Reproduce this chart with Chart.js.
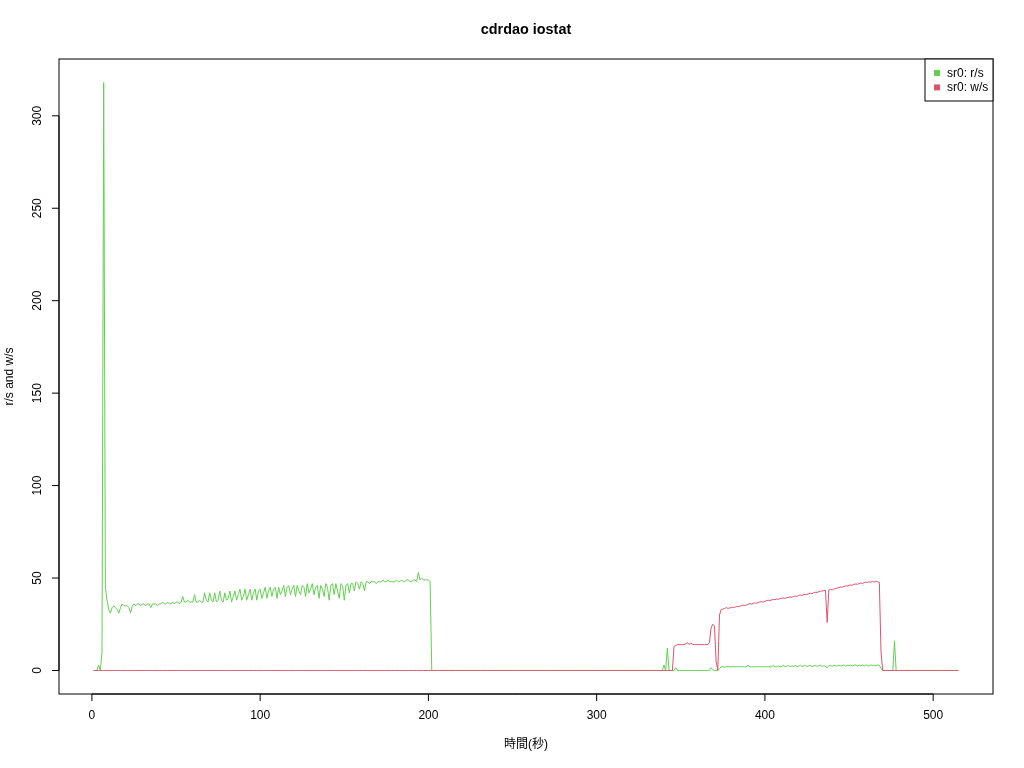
<!DOCTYPE html>
<html>
<head>
<meta charset="utf-8">
<title>cdrdao iostat</title>
<script src="https://cdn.jsdelivr.net/npm/chart.js@4/dist/chart.umd.min.js"></script>
<style>
  html, body { margin: 0; padding: 0; background: #fff; }
  canvas { display: block; }
</style>
</head>
<body>
<canvas id="chart" width="1024" height="768"></canvas>
<script>
const chartTitle = 'cdrdao iostat';
const xTitle = '時間(秒)';
const yTitle = 'r/s and w/s';
const xTicks = [0, 100, 200, 300, 400, 500];
const yTicks = [0, 50, 100, 150, 200, 250, 300];
const seriesNames = ['sr0: r/s', 'sr0: w/s'];
const firstSecond = 1;

// sr0 r/s, one value per second from t=1
const readsPerSec = [
  0,0,0,3,0,10,318,45,38,33,
  31,34,35,34,33,31,34,36,35,35,
  35,34,31,35,36,35,36,36,35,36,
  36,35,36,36,34,36,36,36,35,36,
  36,37,36,36,37,36,36,37,36,37,
  37,36,37,40,37,37,38,37,37,37,
  41,37,37,38,37,37,42,38,37,42,
  38,37,42,37,38,43,38,37,42,38,
  39,43,37,40,43,38,41,44,38,40,
  44,38,41,44,38,42,44,38,43,44,
  39,42,45,39,43,45,40,44,45,39,
  45,41,43,46,40,45,46,41,44,46,
  40,46,43,41,46,45,40,47,42,44,
  47,41,45,46,39,46,44,40,47,45,
  38,46,47,41,47,43,39,47,46,38,
  46,47,42,47,47,43,48,47,44,48,
  47,43,48,48,47,48,48,48,47,48,
  48,48,49,48,48,49,48,48,48,48,
  49,48,48,49,48,48,49,49,48,48,
  49,49,48,53,49,50,49,49,49,49,
  48,0,0,0,0,0,0,0,0,0,
  0,0,0,0,0,0,0,0,0,0,
  0,0,0,0,0,0,0,0,0,0,
  0,0,0,0,0,0,0,0,0,0,
  0,0,0,0,0,0,0,0,0,0,
  0,0,0,0,0,0,0,0,0,0,
  0,0,0,0,0,0,0,0,0,0,
  0,0,0,0,0,0,0,0,0,0,
  0,0,0,0,0,0,0,0,0,0,
  0,0,0,0,0,0,0,0,0,0,
  0,0,0,0,0,0,0,0,0,0,
  0,0,0,0,0,0,0,0,0,0,
  0,0,0,0,0,0,0,0,0,0,
  0,0,0,0,0,0,0,0,0,3,
  0,12,0,0,0,0,1.5,0,0,0,
  0,0,0,0,0,0,0,0,0,0,
  0,0,0,0,0,0,0,1.5,0.5,0,
  0,0,1,2,2,1.8,2,2.2,2,2,
  2.1,2,2,2,2.2,2,2,2,2.1,3,
  2,2,2,2,2,2.2,2,2,2,2.1,
  2,2,2,2,2.8,2,2,2.5,2,2.2,
  2.8,2,2.3,2.8,2,2.5,2.2,2.8,2,2.3,
  2.9,2.1,2.4,2.8,2.1,2.6,2.9,2,2.5,2.8,
  2.2,2.6,2.9,2.2,2.5,2.2,1.4,2.6,2.8,2.2,
  2.9,2.5,2.3,2.9,2.4,2.7,3,2.3,2.8,2.6,
  2.9,2.3,2.8,3,2.4,2.9,2.6,2.9,2.4,3,
  2.7,2.5,3,2.6,2.9,2.5,3,2.8,1,0,
  0,0,0,0,0,0,16,0,0,0,
  0,0,0,0,0,0,0,0,0,0,
  0,0,0,0,0,0,0,0,0,0,
  0,0,0,0,0,0,0,0,0,0,
  0,0,0,0,0
];

// sr0 w/s, one value per second from t=1
const writesPerSec = [
  0,0,0,0,0,0,0,0,0,0,
  0,0,0,0,0,0,0,0,0,0,
  0,0,0,0,0,0,0,0,0,0,
  0,0,0,0,0,0,0,0,0,0,
  0,0,0,0,0,0,0,0,0,0,
  0,0,0,0,0,0,0,0,0,0,
  0,0,0,0,0,0,0,0,0,0,
  0,0,0,0,0,0,0,0,0,0,
  0,0,0,0,0,0,0,0,0,0,
  0,0,0,0,0,0,0,0,0,0,
  0,0,0,0,0,0,0,0,0,0,
  0,0,0,0,0,0,0,0,0,0,
  0,0,0,0,0,0,0,0,0,0,
  0,0,0,0,0,0,0,0,0,0,
  0,0,0,0,0,0,0,0,0,0,
  0,0,0,0,0,0,0,0,0,0,
  0,0,0,0,0,0,0,0,0,0,
  0,0,0,0,0,0,0,0,0,0,
  0,0,0,0,0,0,0,0,0,0,
  0,0,0,0,0,0,0,0,0,0,
  0,0,0,0,0,0,0,0,0,0,
  0,0,0,0,0,0,0,0,0,0,
  0,0,0,0,0,0,0,0,0,0,
  0,0,0,0,0,0,0,0,0,0,
  0,0,0,0,0,0,0,0,0,0,
  0,0,0,0,0,0,0,0,0,0,
  0,0,0,0,0,0,0,0,0,0,
  0,0,0,0,0,0,0,0,0,0,
  0,0,0,0,0,0,0,0,0,0,
  0,0,0,0,0,0,0,0,0,0,
  0,0,0,0,0,0,0,0,0,0,
  0,0,0,0,0,0,0,0,0,0,
  0,0,0,0,0,0,0,0,0,0,
  0,0,0,0,0,0,0,0,0,0,
  0,0,0,0,0,13,13.5,14,14,14,
  14,14,14.5,15,14,15,14,14,14,14,
  14,14,14,14,14,14,15,23,25,24,
  5,0,30,33,33.2,33.5,34,33.6,33.8,34,
  34.2,34.1,34.6,34.5,34.8,35,35.3,35.1,35.4,35.8,
  36.2,35.9,36.3,36.5,36.4,36.8,37,37.2,37,37.4,
  37.8,38,37.8,38.2,38.4,38.3,38.7,38.5,38.9,39,
  39.2,39,39.4,39.5,39.8,39.6,40,40.3,40.1,40.5,
  40.8,40.6,41,41.2,41.1,41.5,41.8,41.6,42.1,42.3,
  42.2,42.6,42.9,43,43.2,43.4,26,43.6,43.9,43.6,
  44.1,44.3,44.6,44.8,45.2,45,45.5,45.8,45.6,46,
  46.3,46.1,46.6,46.8,46.6,47,47.3,47.1,47.5,47.8,
  47.6,48,47.7,48.2,47.8,48.3,48,47.6,10,0,
  0,0,0,0,0,0,0,0,0,0,
  0,0,0,0,0,0,0,0,0,0,
  0,0,0,0,0,0,0,0,0,0,
  0,0,0,0,0,0,0,0,0,0,
  0,0,0,0,0
];

const GREEN = '#61D04F';
const RED = '#DF536B';
const FONT = '"Liberation Sans", Arial, "Noto Sans CJK JP", sans-serif';

function toPoints(values) {
  return values.map((v, i) => ({ x: firstSecond + i, y: v }));
}

// R pads the data range by 4% on each side
function paddedRange(lo, hi) {
  const pad = (hi - lo) * 0.04;
  return { min: lo - pad, max: hi + pad };
}

const allX = readsPerSec.length + firstSecond - 1;
const xRange = paddedRange(firstSecond, allX);
const yRange = paddedRange(0, Math.max(...readsPerSec, ...writesPerSec));

const rAxesPlugin = {
  id: 'rAxes',
  afterDraw(chart) {
    const { ctx, chartArea: a, scales } = chart;
    const xs = scales.x;
    const ys = scales.y;
    ctx.save();
    ctx.strokeStyle = '#000';
    ctx.fillStyle = '#000';
    ctx.lineWidth = 1;

    // box
    ctx.strokeRect(a.left, a.top, a.right - a.left, a.bottom - a.top);

    // x axis
    const x0 = xs.getPixelForValue(xTicks[0]);
    const x1 = xs.getPixelForValue(xTicks[xTicks.length - 1]);
    ctx.beginPath();
    ctx.moveTo(x0, a.bottom);
    ctx.lineTo(x1, a.bottom);
    ctx.font = '12px ' + FONT;
    ctx.textAlign = 'center';
    ctx.textBaseline = 'middle';
    xTicks.forEach((t) => {
      const px = xs.getPixelForValue(t);
      ctx.moveTo(px, a.bottom);
      ctx.lineTo(px, a.bottom + 7);
      ctx.fillText(String(t), px, a.bottom + 22);
    });
    ctx.stroke();

    // y axis
    const y0 = ys.getPixelForValue(yTicks[0]);
    const y1 = ys.getPixelForValue(yTicks[yTicks.length - 1]);
    ctx.beginPath();
    ctx.moveTo(a.left, y0);
    ctx.lineTo(a.left, y1);
    yTicks.forEach((t) => {
      const py = ys.getPixelForValue(t);
      ctx.moveTo(a.left, py);
      ctx.lineTo(a.left - 7, py);
    });
    ctx.stroke();
    yTicks.forEach((t) => {
      const py = ys.getPixelForValue(t);
      ctx.save();
      ctx.translate(a.left - 21.5, py);
      ctx.rotate(-Math.PI / 2);
      ctx.fillText(String(t), 0, 0);
      ctx.restore();
    });

    // titles
    const cx = (a.left + a.right) / 2;
    ctx.font = 'bold 14.4px ' + FONT;
    ctx.fillText(chartTitle, cx, 30.5);
    ctx.font = '12px ' + FONT;
    ctx.fillText(xTitle, cx, 745);
    ctx.save();
    ctx.translate(10, (a.top + a.bottom) / 2);
    ctx.rotate(-Math.PI / 2);
    ctx.fillText(yTitle, 0, 0);
    ctx.restore();

    // legend box, top right
    const boxW = 68;
    const boxH = 42;
    const bx = a.right - boxW;
    const by = a.top;
    ctx.fillStyle = '#fff';
    ctx.fillRect(bx, by, boxW, boxH);
    ctx.strokeRect(bx, by, boxW, boxH);
    ctx.textAlign = 'left';
    chart.data.datasets.forEach((ds, i) => {
      const ry = by + 14.5 + i * 14.4;
      ctx.fillStyle = ds.borderColor;
      ctx.fillRect(bx + 9, ry - 3.5, 6, 6);
      ctx.fillStyle = '#000';
      ctx.fillText(ds.label, bx + 22, ry);
    });
    ctx.restore();
  }
};

new Chart(document.getElementById('chart'), {
  type: 'line',
  data: {
    datasets: [
      {
        label: seriesNames[0],
        data: toPoints(readsPerSec),
        borderColor: GREEN,
        backgroundColor: GREEN,
        borderWidth: 1,
        pointRadius: 0,
        tension: 0,
        fill: false,
        order: 1,
      },
      {
        label: seriesNames[1],
        data: toPoints(writesPerSec),
        borderColor: RED,
        backgroundColor: RED,
        borderWidth: 1,
        pointRadius: 0,
        tension: 0,
        fill: false,
        order: 0,
      },
    ],
  },
  options: {
    responsive: false,
    animation: false,
    layout: { padding: { left: 59, right: 31, top: 59, bottom: 74 } },
    plugins: {
      legend: { display: false },
      title: { display: false },
      tooltip: { enabled: false },
    },
    scales: {
      x: { type: 'linear', min: xRange.min, max: xRange.max, display: false },
      y: { type: 'linear', min: yRange.min, max: yRange.max, display: false },
    },
  },
  plugins: [rAxesPlugin],
});
</script>
</body>
</html>
